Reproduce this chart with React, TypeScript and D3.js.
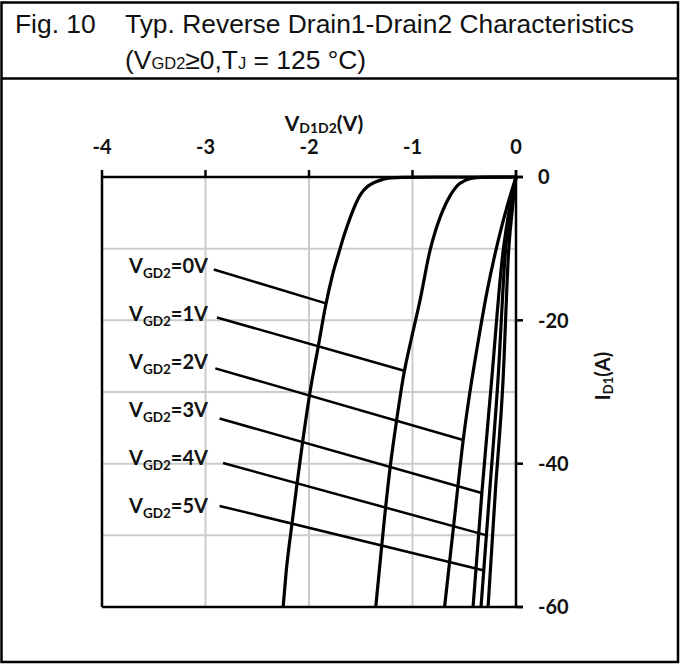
import React, { useEffect, useRef } from "react";
import * as d3 from "d3";

const W = 680;
const H = 664;
const LABEL_FONT = "Lato, 'Open Sans', sans-serif";
const TITLE_FONT = "'Liberation Sans', Arial, sans-serif";

// axes
const vTicks = [-4, -3, -2, -1, 0];
const iTicks = [0, -20, -40, -60];
const vGrid = [-3, -2, -1];
const iGrid = [-10, -20, -30, -40, -50];

// curves, one per gate voltage (V = V_D1D2, I = I_D1)
const gateLabels = ["0V", "1V", "2V", "3V", "4V", "5V"];

const vgd0V = [-2.25, -2.22, -2.17, -2.12, -2.06, -1.99, -1.91, -1.84, -1.77, -1.71, -1.66, -1.6, -1.55, -1.5, -1.44, -1.4, -1.34, -1.3, -1.25, -1.2, -1.1, -0.8, -0.4, 0];
const vgd0I = [-60, -55, -49, -43.3, -36.8, -30, -23.6, -18, -13.5, -10.5, -8.1, -5.6, -3.8, -2.4, -1.4, -1.0, -0.6, -0.4, -0.2, -0.12, -0.05, -0.02, -0.01, 0];

const vgd1V = [-1.355, -1.32, -1.27, -1.215, -1.15, -1.085, -1.01, -0.93, -0.83, -0.78, -0.73, -0.68, -0.64, -0.6, -0.56, -0.52, -0.47, -0.42, -0.34, -0.2, 0];
const vgd1I = [-60, -54.8, -47.5, -40.4, -33.6, -27.6, -22.5, -17.4, -10.2, -7.6, -5.5, -3.8, -2.7, -1.8, -1.1, -0.7, -0.35, -0.15, -0.05, -0.02, 0];

const vgd2V = [-0.69, -0.6, -0.51, -0.427, -0.379, -0.28, -0.171, -0.08, 0];
const vgd2I = [-60, -48.3, -36.7, -28.3, -24.1, -16, -8.8, -3.8, 0];

const vgd3V = [-0.415, -0.33, -0.235, -0.13, -0.07, 0];
const vgd3I = [-60, -44.1, -28.3, -11, -5, 0];

const vgd4V = [-0.338, -0.255, -0.174, -0.1, -0.05, 0];
const vgd4I = [-60, -44, -28.3, -10, -4.5, 0];

const vgd5V = [-0.27, -0.2, -0.125, -0.07, -0.035, 0];
const vgd5I = [-60, -44, -28.3, -10, -4.5, 0];

const curveV = [vgd0V, vgd1V, vgd2V, vgd3V, vgd4V, vgd5V];
const curveI = [vgd0I, vgd1I, vgd2I, vgd3I, vgd4I, vgd5I];

// leader lines from label to its curve
const leaderFromV = [-2.92, -2.89, -2.905, -2.864, -2.831, -2.864];
const leaderFromI = [-12.9, -19.6, -26.7, -33.7, -39.9, -45.9];
const leaderToV = [-1.844, -1.088, -0.51, -0.331, -0.283, -0.309];
const leaderToI = [-17.6, -27.0, -36.7, -44.1, -50.0, -54.9];

export default function App() {
  const svgRef = useRef<SVGSVGElement>(null);

  useEffect(() => {
    const svg = d3.select(svgRef.current);
    svg.selectAll("*").remove();

    const m = { left: 102, right: 516, top: 177, bottom: 607 };
    const x = d3.scaleLinear().domain([-4, 0]).range([m.left, m.right]);
    const y = d3.scaleLinear().domain([0, -60]).range([m.top, m.bottom]);

    // 外枠
    svg
      .append("rect")
      .attr("x", 1.5)
      .attr("y", 2.5)
      .attr("width", W - 3.5)
      .attr("height", H - 4.5)
      .attr("fill", "#fff")
      .attr("stroke", "#000")
      .attr("stroke-width", 2.5);
    svg
      .append("line")
      .attr("x1", 1.5)
      .attr("x2", W - 2)
      .attr("y1", 78.5)
      .attr("y2", 78.5)
      .attr("stroke", "#000")
      .attr("stroke-width", 2.5);

    // title
    const t1 = svg
      .append("g")
      .attr("font-family", TITLE_FONT)
      .attr("font-size", 26.4)
      .attr("fill", "#111");
    t1.append("text").attr("x", 15).attr("y", 33).text("Fig. 10");
    t1.append("text")
      .attr("x", 125)
      .attr("y", 33)
      .text("Typ. Reverse Drain1-Drain2 Characteristics");
    const sub = t1.append("text").attr("x", 125).attr("y", 68.5);
    sub.append("tspan").text("(V");
    sub.append("tspan").attr("font-size", 16.5).text("GD2");
    sub.append("tspan").text("≥0,T");
    sub.append("tspan").attr("font-size", 16.5).text("J");
    sub.append("tspan").text(" = 125 °C)");

    // grid
    const grid = svg
      .append("g")
      .attr("stroke", "#cbcbcb")
      .attr("stroke-width", 2);
    grid
      .selectAll("line.v")
      .data(vGrid)
      .join("line")
      .attr("x1", (d) => x(d))
      .attr("x2", (d) => x(d))
      .attr("y1", y(0))
      .attr("y2", y(-60));
    grid
      .selectAll("line.h")
      .data(iGrid)
      .join("line")
      .attr("x1", x(-4))
      .attr("x2", x(0))
      .attr("y1", (d) => y(d))
      .attr("y2", (d) => y(d));

    // axes lines
    const ax = svg.append("g").attr("stroke", "#000").attr("stroke-width", 2.5);
    const TICK = 7;
    ax.append("line")
      .attr("x1", x(-4))
      .attr("x2", x(0) + TICK)
      .attr("y1", y(0))
      .attr("y2", y(0));
    ax.append("line")
      .attr("x1", x(-4))
      .attr("x2", x(0) + TICK)
      .attr("y1", y(-60))
      .attr("y2", y(-60));
    ax.append("line")
      .attr("x1", x(-4))
      .attr("x2", x(-4))
      .attr("y1", y(0))
      .attr("y2", y(-60));
    ax.append("line")
      .attr("x1", x(0))
      .attr("x2", x(0))
      .attr("y1", y(0) - TICK)
      .attr("y2", y(-60));
    ax.selectAll("line.tx")
      .data(vTicks)
      .join("line")
      .attr("x1", (d) => x(d))
      .attr("x2", (d) => x(d))
      .attr("y1", y(0) - TICK)
      .attr("y2", y(0));
    ax.selectAll("line.ty")
      .data(iTicks)
      .join("line")
      .attr("x1", x(0))
      .attr("x2", x(0) + TICK)
      .attr("y1", (d) => y(d))
      .attr("y2", (d) => y(d));

    // curves
    const line = d3
      .line<[number, number]>()
      .x((d) => x(d[0]))
      .y((d) => y(d[1]))
      .curve(d3.curveMonotoneX);
    const curves = curveV.map((vs, k) =>
      vs.map((v, i) => [v, curveI[k][i]] as [number, number])
    );
    svg
      .append("g")
      .selectAll("path")
      .data(curves)
      .join("path")
      .attr("d", (d) => line(d))
      .attr("fill", "none")
      .attr("stroke", "#000")
      .attr("stroke-width", 3.2)
      .attr("stroke-linejoin", "round");

    // leader lines
    svg
      .append("g")
      .selectAll("line")
      .data(gateLabels)
      .join("line")
      .attr("x1", (_, i) => x(leaderFromV[i]))
      .attr("y1", (_, i) => y(leaderFromI[i]))
      .attr("x2", (_, i) => x(leaderToV[i]))
      .attr("y2", (_, i) => y(leaderToI[i]))
      .attr("stroke", "#000")
      .attr("stroke-width", 2.5);

    const txt = svg
      .append("g")
      .attr("font-family", LABEL_FONT)
      .attr("font-weight", 700)
      .attr("fill", "#111")
      .attr("font-size", 20);

    // gate labels
    gateLabels.forEach((g, i) => {
      const t = txt
        .append("text")
        .attr("x", 129)
        .attr("y", 273 + i * 48);
      t.append("tspan").text("V");
      t.append("tspan").attr("font-size", 13.5).attr("dy", 5).text("GD2");
      t.append("tspan").attr("dy", -5).text("=" + g);
    });

    // top tick labels
    txt
      .selectAll("text.vt")
      .data(vTicks)
      .join("text")
      .attr("x", (d) => x(d))
      .attr("y", 154)
      .attr("text-anchor", "middle")
      .text((d) => String(d));

    // right tick labels
    txt
      .selectAll("text.it")
      .data(iTicks)
      .join("text")
      .attr("x", 538)
      .attr("y", (d) => y(d))
      .attr("dy", "0.36em")
      .text((d) => String(d));

    // axis titles
    const xt = txt
      .append("text")
      .attr("x", 324)
      .attr("y", 130.5)
      .attr("font-size", 21)
      .attr("text-anchor", "middle");
    xt.append("tspan").text("V");
    xt.append("tspan").attr("font-size", 14).attr("dy", 2).text("D1D2");
    xt.append("tspan").attr("dy", -2).text("(V)");

    const yt = txt
      .append("text")
      .attr("transform", "translate(610,376) rotate(-90)")
      .attr("text-anchor", "middle");
    yt.append("tspan").text("I");
    yt.append("tspan").attr("font-size", 13).attr("dy", 3).text("D1");
    yt.append("tspan").attr("dy", -3).text("(A)");
  }, []);

  return (
    <svg
      ref={svgRef}
      width={W}
      height={H}
      style={{ position: "absolute", left: 0, top: 0, display: "block" }}
    />
  );
}
